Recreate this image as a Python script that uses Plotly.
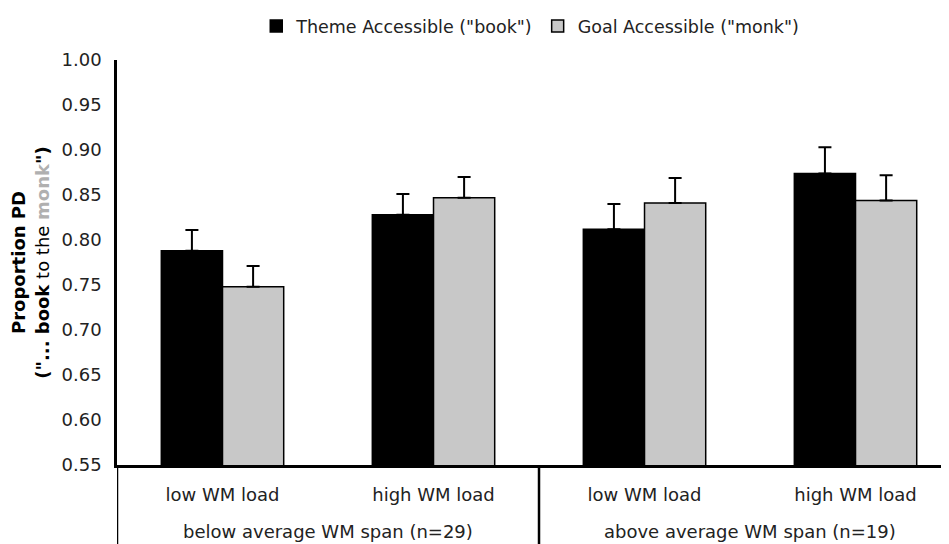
import plotly.graph_objects as go

spans = ["below average WM span (n=29)", "below average WM span (n=29)",
         "above average WM span (n=19)", "above average WM span (n=19)"]
loads = ["low WM load", "high WM load", "low WM load", "high WM load"]

theme_vals = [0.788, 0.828, 0.812, 0.874]
theme_err = [0.023, 0.023, 0.028, 0.029]
goal_vals = [0.748, 0.847, 0.841, 0.844]
goal_err = [0.023, 0.023, 0.028, 0.028]

series_names = ['Theme Accessible ("book")', 'Goal Accessible ("monk")']
colors = ["#000000", "#c8c8c8"]

keys = [f"{s} | {l}" for s, l in zip(spans, loads)]

fig = go.Figure()
for name, vals, errs, col in zip(series_names, [theme_vals, goal_vals], [theme_err, goal_err], colors):
    fig.add_trace(go.Bar(
        x=keys, y=vals, name=name,
        marker=dict(color=col, line=dict(color="#000000", width=1.5)),
        error_y=dict(type="data", array=errs, symmetric=False, arrayminus=[0]*len(errs),
                     color="#000000", thickness=2, width=6.5),
    ))

# figure canvas is offset 8px by the page body margin
fig.update_layout(
    width=941, height=536,
    margin=dict(l=109, r=0, t=52, b=79, autoexpand=False),
    plot_bgcolor="white", paper_bgcolor="white",
    barmode="group", bargap=0.42, bargroupgap=0,
    font=dict(family="DejaVu Sans, Verdana, sans-serif", size=18, color="#222222"),
    legend=dict(orientation="h", x=0.555, xref="container", xanchor="center",
                y=1.0, yref="container", yanchor="top",
                font=dict(size=17.5), itemwidth=30, traceorder="normal"),
    showlegend=True,
)
fig.update_yaxes(range=[0.55, 1.0], dtick=0.05, tickformat=".2f", showgrid=False,
                 showline=True, linecolor="#000000", linewidth=2.5, ticks="", zeroline=False,
                 automargin=False, tickfont=dict(size=18), ticklabelstandoff=9,
                 title=dict(text='<b>Proportion PD</b><br><b>("... book</b> to the <b><span style="color:#b0b0b0">monk</span>")</b>',
                            font=dict(size=18, color="#000000"), standoff=8))
fig.update_xaxes(type="category", categoryorder="array", categoryarray=keys,
                 tickmode="array", tickvals=keys, ticktext=loads,
                 showline=True, linecolor="#000000", linewidth=2.5,
                 tickfont=dict(size=18), ticklabelstandoff=12,
                 showgrid=False, ticks="", automargin=False, range=[-0.5, 3.443])

# outer group labels and dividers
groups = []
for i, s in enumerate(spans):
    if not groups or groups[-1][0] != s:
        groups.append([s, i, i])
    else:
        groups[-1][2] = i
for s, i0, i1 in groups:
    fig.add_annotation(text=s, x=(i0 + i1) / 2, xref="x", y=-0.163, yref="paper",
                       yanchor="middle", showarrow=False, font=dict(size=18, color="#222222"))
    fig.add_shape(type="line", x0=i0 - 0.5, x1=i0 - 0.5, xref="x", y0=0, y1=-0.2, yref="paper",
                  line=dict(color="#000000", width=2.5))

fig.write_html("out.html")
